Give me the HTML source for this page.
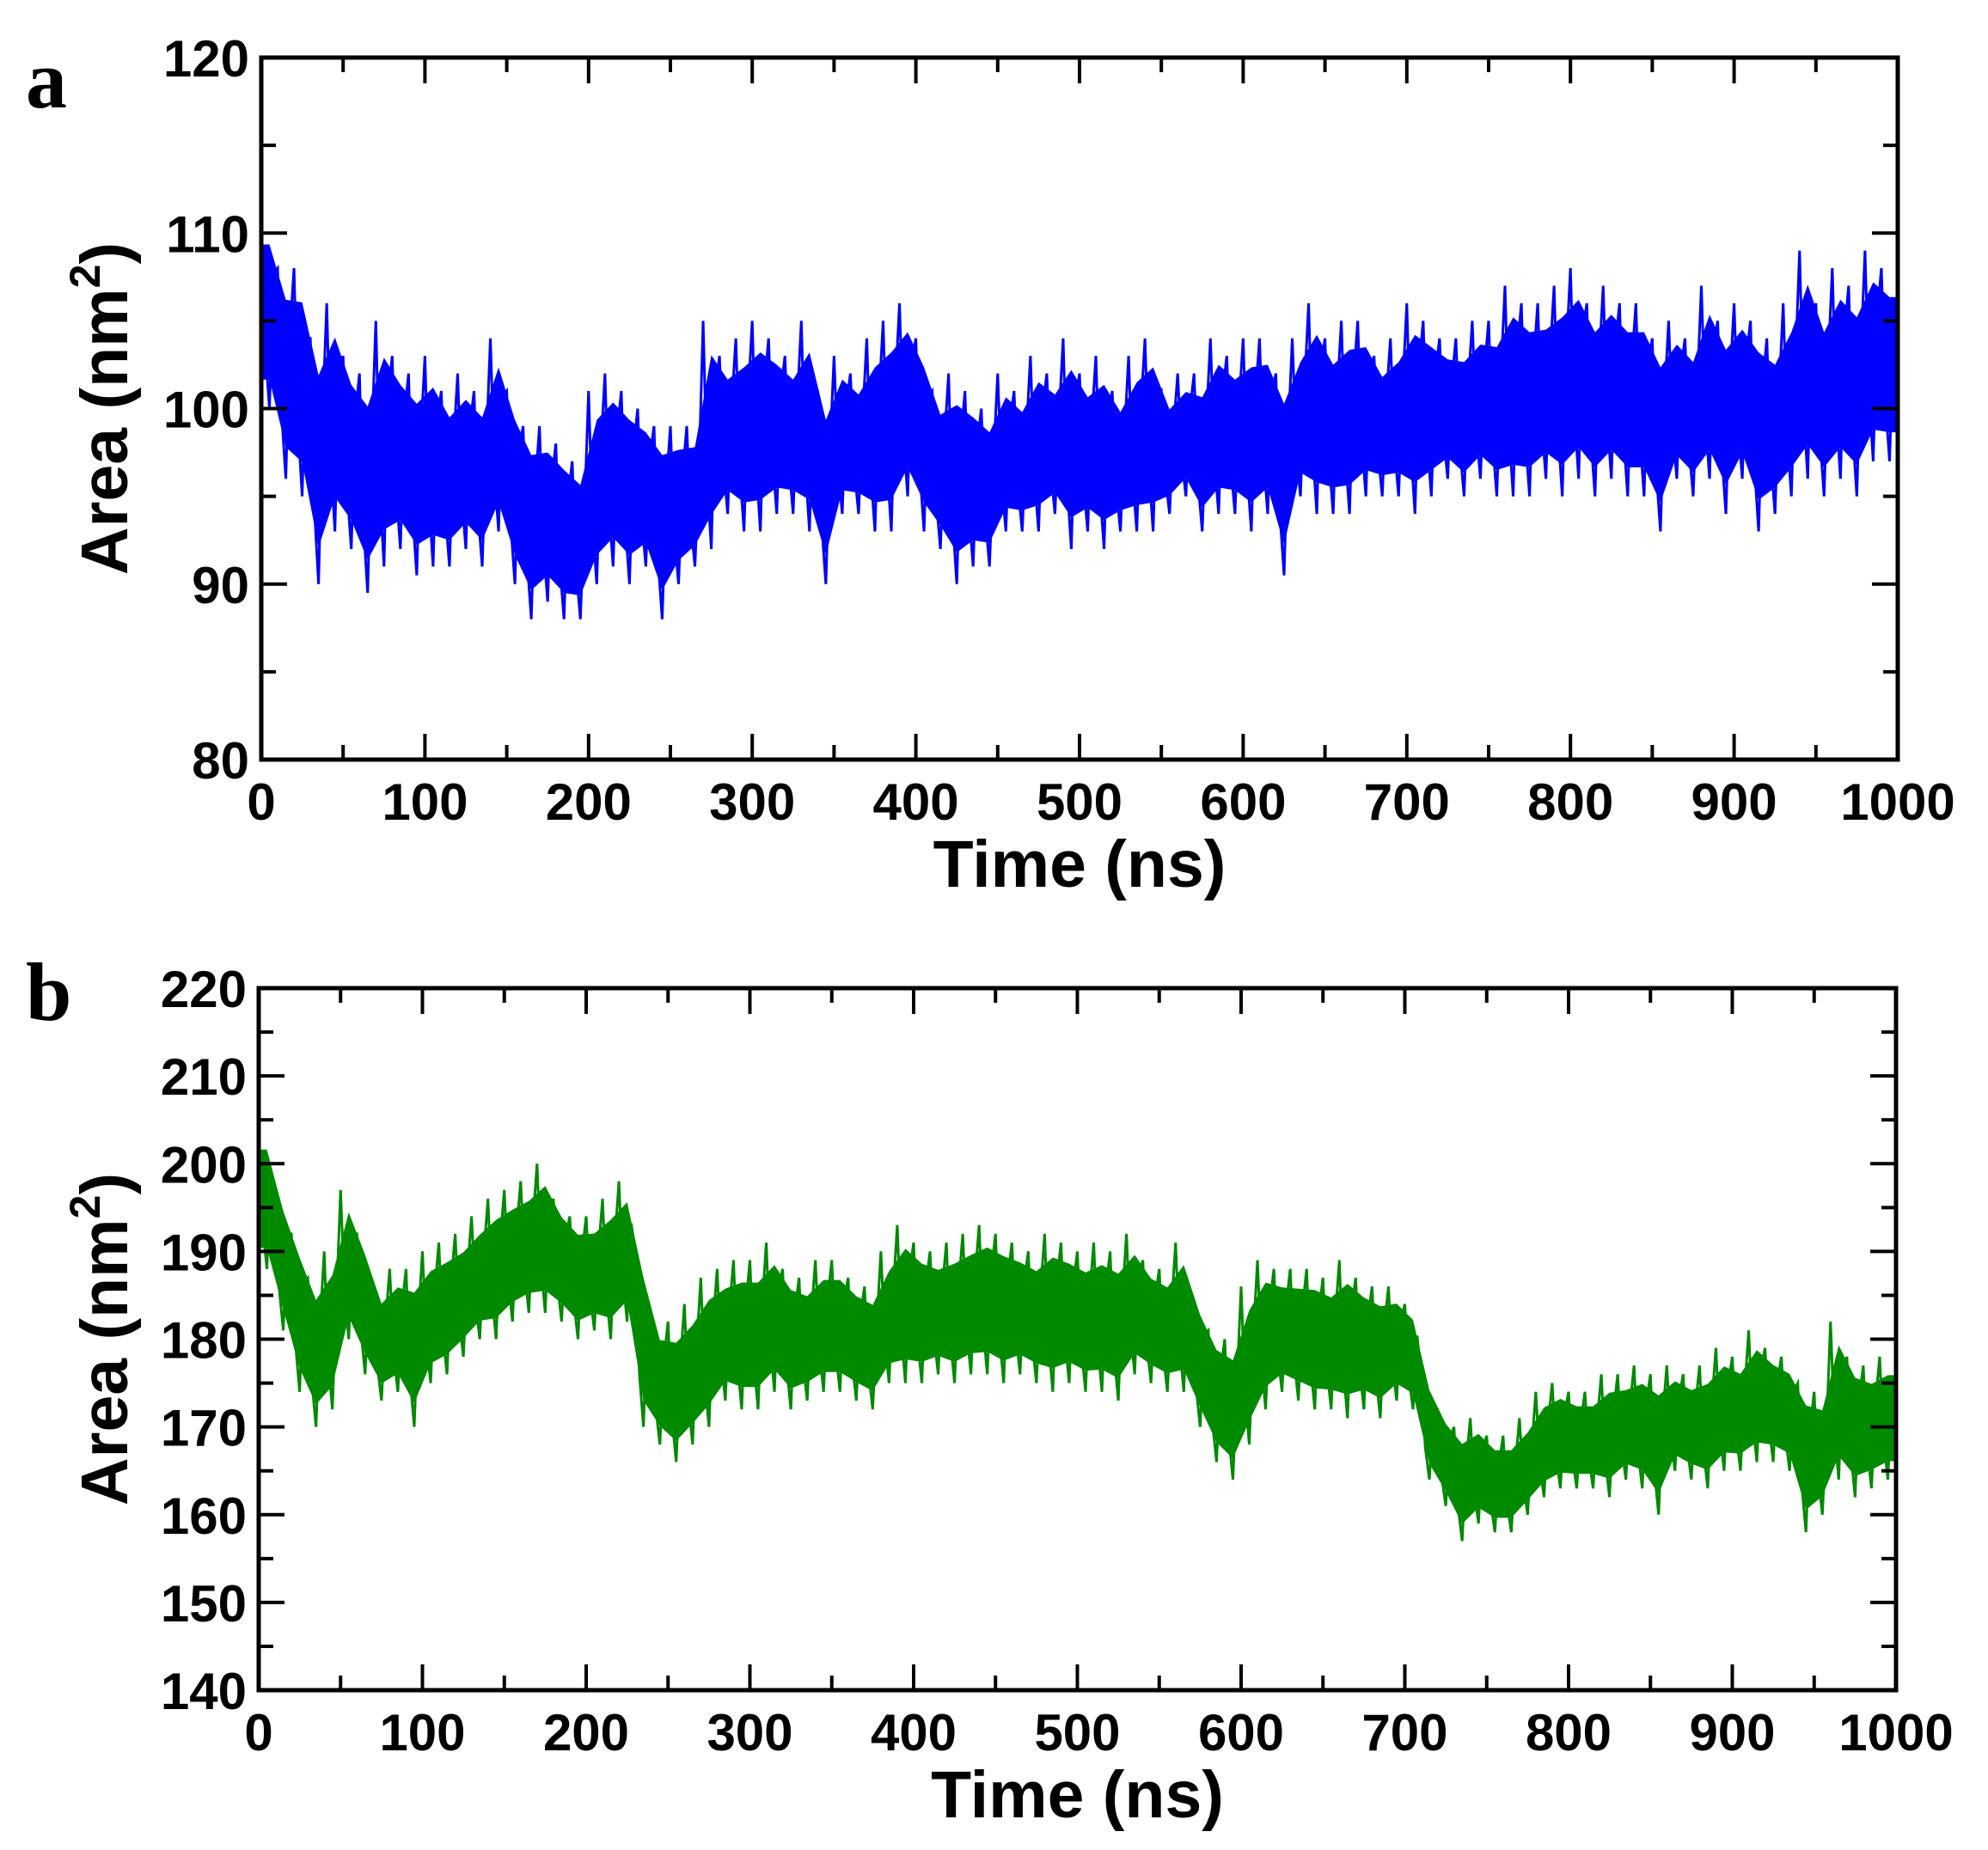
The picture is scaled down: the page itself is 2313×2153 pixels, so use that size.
<!DOCTYPE html>
<html><head><meta charset="utf-8">
<style>
html,body{margin:0;padding:0;background:#fff;}
svg{display:block;}
text{font-family:"Liberation Sans",sans-serif;font-weight:bold;fill:#000;}
</style></head>
<body>
<svg id="fig" width="2313" height="2153" viewBox="0 0 2313 2153" xmlns="http://www.w3.org/2000/svg"></svg>
<script>
// Panel a: per-10ns bins (0..1000 ns), max and min of Area (nm^2)
const timeBinsA = [0,10,20,30,40,50,60,70,80,90,100,110,120,130,140,150,160,170,180,190,200,210,220,230,240,250,260,270,280,290,300,310,320,330,340,350,360,370,380,390,400,410,420,430,440,450,460,470,480,490,500,510,520,530,540,550,560,570,580,590,600,610,620,630,640,650,660,670,680,690,700,710,720,730,740,750,760,770,780,790,800,810,820,830,840,850,860,870,880,890,900,910,920,930,940,950,960,970,980,990];
const areaHiA = [111,108,108,104,106,103,102,105,103,102,103,101,102,101,104,101,99,99,98,97,101,102,101,100,99,99,99,105,103,104,105,104,103,105,101,103,102,104,105,106,104,101,102,101,100,102,101,103,102,104,102,103,101,103,104,101,102,102,104,103,104,104,102,104,106,104,105,105,103,104,106,105,104,104,105,105,107,106,106,107,108,106,107,106,106,104,105,104,107,105,106,105,104,106,109,106,108,107,109,108];
const areaLoA = [100,96,95,90,93,92,89.5,91,92,90.5,91,91,92,91,93,90,88,89,88,88,90,91,90,91,88,90,91,92,94,93,93,94,94,93,90,94,94,93,93,95,93,92,90,91,91,93,93,93,94,92,93,92,93,93,93,94,95,93,94,94,93,94,90.5,95,94,94,94,95,95,95,94,95,96,95,96,95,95,95,96,95,96,95,96,95,95,93,96,95,96,94,96,93,94,95,96,95,96,95,97,97];
// Panel b
const timeBinsB = timeBinsA;
const areaHiB = [204,197,192,187,190,197,192,186,188,188,190,191,192,194,196,197,198,200,196,194,194,196,198,190,182,182,184,187,188,189,189,191,188,187,189,189,187,186,190,193,191,190,191,192,193,192,191,190,192,191,190,191,190,192,189,188,191,185,181,180,186,189,188,188,188,187,189,187,186,186,184,176,172,170,171,169,169,171,174,175,174,174,176,176,177,176,177,176,177,179,178,181,179,178,175,174,182,178,177,178];
const areaLoB = [188,181,174,170,172,180,176,173,174,170,175,176,178,180,180,182,183,183,182,180,181,180,182,170,168,166,168,170,173,172,172,174,172,173,174,174,173,172,175,175,175,176,175,176,176,175,176,175,174,175,174,174,173,176,175,174,174,170,166,164,168,172,174,173,172,172,171,172,171,173,172,164,161,157,159,158,158,160,162,163,163,163,162,164,163,160,165,164,163,165,165,166,166,165,158,160,164,162,163,164];
const xTicks = [0,100,200,300,400,500,600,700,800,900,1000];
const yTicksA = [80,90,100,110,120];
const yTicksB = [140,150,160,170,180,190,200,210,220];

const NS="http://www.w3.org/2000/svg";
const svg=document.getElementById('fig');
function mk(tag,attrs,parent){const e=document.createElementNS(NS,tag);for(const k in attrs)e.setAttribute(k,attrs[k]);(parent||svg).appendChild(e);return e;}

function panel(cfg){
  const g=mk('g',{});
  
  
  const {x0,x1,y0,y1,ymin,ymax}=cfg;
  const sx=v=>x0+(v-0)/(1000-0)*(x1-x0);
  const sy=v=>y1-(v-ymin)/(ymax-ymin)*(y1-y0);
  const n=cfg.t.length;
  const a=0.85,b=0.15;
  let top=[],bot=[];
  for(let i=0;i<n;i++){
    const lo=cfg.lo[i],hi=cfg.hi[i],r=hi-lo;
    top.push(sx(cfg.t[i]+5)+','+sy(lo+r*a));
    bot.push(sx(cfg.t[i]+5)+','+sy(lo+r*b));
  }
  top.unshift(sx(0)+','+sy(cfg.lo[0]+(cfg.hi[0]-cfg.lo[0])*a));
  bot.unshift(sx(0)+','+sy(cfg.lo[0]+(cfg.hi[0]-cfg.lo[0])*b));
  top.push(sx(1000)+','+sy(cfg.lo[n-1]+(cfg.hi[n-1]-cfg.lo[n-1])*a));
  bot.push(sx(1000)+','+sy(cfg.lo[n-1]+(cfg.hi[n-1]-cfg.lo[n-1])*b));
  const band=mk('polygon',{points:top.concat(bot.reverse()).join(' '),fill:cfg.color},g);
  
  
  let pts=[];
  for(let i=0;i<n;i++){
    const lo=cfg.lo[i],hi=cfg.hi[i];
    pts.push(sx(cfg.t[i])+','+sy(hi));
    pts.push(sx(cfg.t[i]+2.5)+','+sy(lo+(hi-lo)*0.3));
    pts.push(sx(cfg.t[i]+5)+','+sy(lo));
    pts.push(sx(cfg.t[i]+7.5)+','+sy(lo+(hi-lo)*0.7));
  }
  const line=mk('polyline',{points:pts.join(' '),fill:'none',stroke:cfg.color,'stroke-width':3},g);
  
  
  const tk=[];
  for(let v=0;v<=1000;v+=50){const X=sx(v),L=(v%100===0)?30:17;
    tk.push(`M${X},${y1}v${-L}M${X},${y0}v${L}`);}
  for(let v=ymin;v<=ymax;v+=5){const Y=sy(v),L=((v-ymin)%10===0)?30:17;
    tk.push(`M${x0},${Y}h${L}M${x1},${Y}h${-L}`);}
  const ticks=mk('path',{d:tk.join(''),stroke:'#000','stroke-width':4,fill:'none'},g);
  
  
  const frame=mk('rect',{x:x0,y:y0,width:x1-x0,height:y1-y0,fill:'none',stroke:'#000','stroke-width':5},g);
  
  
  xTicks.forEach(v=>{const t=mk('text',{x:sx(v),y:y1+70,'text-anchor':'middle','font-size':60},g);t.textContent=v;
    
    });
  cfg.yt.forEach(v=>{const t=mk('text',{x:x0-14,y:sy(v)+22,'text-anchor':'end','font-size':60},g);t.textContent=v;
    
    });
  const xt=mk('text',{x:(x0+x1)/2,y:y1+148,'text-anchor':'middle','font-size':77},g);xt.textContent='Time (ns)';
  
  
  const cy=(y0+y1)/2;
  const yt=mk('text',{x:0,y:0,'text-anchor':'middle','font-size':77,transform:`translate(148,${cy}) rotate(-90)`},g);
  yt.innerHTML='Area (nm<tspan dy="-32" font-size="50">2</tspan><tspan dy="32">)</tspan>';
  
  
  const lt=mk('text',{x:30,y:cfg.letterY,'font-size':96,style:'font-family:"Liberation Serif",serif;font-weight:bold'},g);lt.textContent=cfg.letter;
  
  
}
panel({name:'panel-a',x0:304,x1:2208,y0:67,y1:884,ymin:80,ymax:120,t:timeBinsA,hi:areaHiA,lo:areaLoA,yt:yTicksA,color:'#0000ff',letter:'a',letterY:125});
panel({name:'panel-b',x0:301,x1:2206,y0:1150,y1:1967,ymin:140,ymax:220,t:timeBinsB,hi:areaHiB,lo:areaLoB,yt:yTicksB,color:'#008a00',letter:'b',letterY:1187});
</script>
</body></html>
